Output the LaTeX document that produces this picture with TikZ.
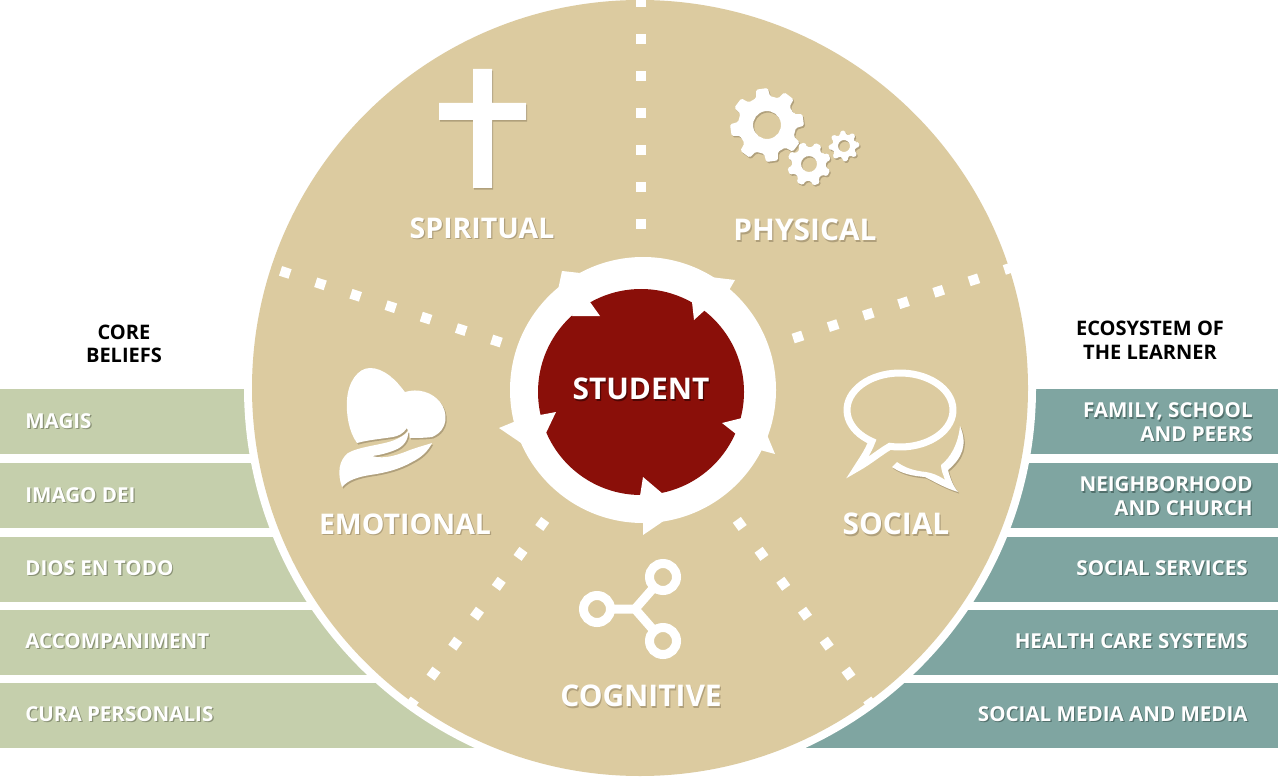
\documentclass[tikz,border=0pt]{standalone}
\usepackage{fontspec}
\setmainfont{Open Sans}
\usepackage{xcolor}
\definecolor{discTan}{RGB}{220,203,160}
\definecolor{tanShade}{RGB}{176,160,124}
\definecolor{beliefGreen}{RGB}{197,207,172}
\definecolor{greenShade}{RGB}{138,146,118}
\definecolor{systemTeal}{RGB}{127,165,161}
\definecolor{tealShade}{RGB}{82,112,108}
\definecolor{studentRed}{RGB}{138,15,9}
\definecolor{redShade}{RGB}{80,6,4}
\usetikzlibrary{calc}
\tikzset{
    icon/.style={fill=white,preaction={fill=tanShade,transform canvas={shift={(0.7pt,-0.9pt)}}}},
    cogicon/.style={even odd rule,rounded corners=0.03cm,fill=white,preaction={even odd rule,fill=tanShade,transform canvas={shift={(0.7pt,-0.9pt)}}}},
    iconline/.style={draw=white,preaction={draw=tanShade,transform canvas={shift={(0.7pt,-0.9pt)}}}},
    bigtext/.style={inner sep=0pt,font=\fontsize{17}{20}\selectfont\bfseries},
    bigtight/.style={inner sep=0pt,font=\fontsize{16.2}{20}\selectfont\bfseries},
    smalltext/.style={inner sep=0pt,font=\fontsize{11.7}{13.6}\selectfont\bfseries},
    headtext/.style={inner sep=0pt,font=\fontsize{11.4}{13.4}\selectfont\bfseries,align=center,text=black},
}
\newcommand{\pos}[2]{\coordinate (#1) at (#2)}
\newcommand{\lbl}[5]{\node[#1,text=#2] at ($(#4)+(1.2,1.6)$) {#5}; \node[#1,text=white] (#3) at (#4) {#5};}
\newcommand{\cog}[5]{\path[cogicon,shift={(#1)},rotate=#5] (-14:#3) \foreach \a in {0,45,...,315}{ -- (\a-14:#3) -- (\a-9:#2) -- (\a+9:#2) -- (\a+14:#3) } -- cycle (0,0) circle (#4);}

\begin{document}
\begin{tikzpicture}[x=0.02cm,y=-0.02cm]
    \useasboundingbox (0,0) rectangle (1280,780);
    \pos{c}{640,388};
    \pos{co}{643,390};
    \pos{cr}{641,392};
    % bars behind the disc
    \foreach \y in {389,463,537,610,683} {
        \fill[beliefGreen] (0,\y) rectangle (640,\y+65);
        \fill[systemTeal] (640,\y) rectangle (1278,\y+65);
    }
    \fill[white] (c) circle (396);
    \fill[discTan] (c) circle (388);
    % dotted dividers
    \foreach \a/\s in {90/164,18/165,162/152,-54/168,-126/168} {
        \foreach \k in {0,...,6} {
            \fill[white,shift={(641,388)},rotate=\a] (\s+37*\k-5,-5) rectangle (\s+37*\k+5,5);
        }
    }
    % centre
    \fill[white] (co) circle (133);
    \fill[studentRed] (cr) circle (103);
    \fill[white] (590,302)--(600,316)--(572,316)--(577,304)--cycle;
    \fill[white] (692,302)--(694,320)--(705,310)--(702,301)--cycle;
    \fill[white] (722,423)--(742,418)--(745,428)--(736,434)--cycle;
    \fill[white] (643,477)--(663,494)--(652,501)--(640,496)--cycle;
    \fill[white] (540,415)--(556,412)--(546,433)--(537,426)--cycle;
    \fill[white] (562,271)--(558,290)--(580,273)--cycle;
    \fill[white] (735,280)--(710,277)--(728,292)--cycle;
    \fill[white] (775,454)--(765,430)--(760,450)--cycle;
    \fill[white] (643,535)--(665,520)--(643,520)--cycle;
    \fill[white] (499,428)--(516,421)--(524,445)--cycle;
    % cross
    \path[icon] (473,69)--(492,69)--(492,103)--(526,103)--(526,120)--(492,120)--(492,188)--(473,188)--(473,120)--(439,120)--(439,103)--(473,103)--cycle;
    % gears
    \cog{767,125}{37}{29}{14}{8}
    \cog{809,164}{22}{17}{8}{20}
    \cog{844,146}{15.5}{11.5}{6}{5}
    % heart and hand
    \path[icon] (357,443) .. controls (349,432) and (346,415) .. (347,400) .. controls (348,382) and (358,368) .. (370,368) .. controls (384,368) and (396,380) .. (405,392) .. controls (418,388) and (432,392) .. (440,402) .. controls (448,412) and (449,430) .. (432,437) .. controls (424,438) and (416,438) .. (410,438) -- (407,428) .. controls (403,434) and (398,436) .. (393,437) .. controls (380,439) and (368,440) .. (357,443) -- cycle;
    \path[icon] (342,487) .. controls (337,473) and (339,460) .. (348,453) .. controls (358,447) and (380,445) .. (392,441) .. controls (400,438) and (405,435) .. (408,431) .. controls (409,440) and (403,447) .. (395,450) .. controls (388,453) and (380,455) .. (372,456) .. controls (385,460) and (400,454) .. (410,450) .. controls (418,447) and (426,445) .. (432,443) .. controls (428,451) and (422,457) .. (412,462) .. controls (400,469) and (385,473) .. (370,475) .. controls (358,477) and (348,480) .. (342,487) -- cycle;
    % speech bubbles
    \pos{bub}{900,410};
    \draw[iconline,line width=7*0.02cm] ($(bub)+(122:53 and 37)$) arc[start angle=122,end angle=461,x radius=53,y radius=37] .. controls (880,452) and (868,462) .. (857,468) .. controls (862,460) and (868,452) .. cycle;
    \path[icon] (960,426) .. controls (968,445) and (962,458) .. (948,470) .. controls (950,478) and (953,486) .. (958,492) .. controls (945,488) and (935,482) .. (925,477) .. controls (913,476) and (902,474) .. (892,467) -- (897,462) .. controls (905,468) and (915,471) .. (926,472) .. controls (932,473) and (938,475) .. (945,480) .. controls (943,474) and (941,470) .. (941,465) .. controls (950,458) and (958,445) .. (960,426) -- cycle;
    % network
    \pos{jn}{635,609};
    \pos{lf}{597,609};
    \pos{up}{663,577};
    \pos{dn}{663,641};
    \draw[iconline,line width=9*0.02cm] (jn)--($(lf)!0.36!(jn)$) (jn)--($(up)!0.32!(jn)$) (jn)--($(dn)!0.32!(jn)$) (lf) circle (13.5) (up) circle (13.5) (dn) circle (13.5);
    % labels
    \lbl{bigtight}{tanShade}{spiritual}{482,228}{SPIRITUAL}
    \lbl{bigtext}{tanShade}{physical}{805,230}{PHYSICAL}
    \lbl{bigtight}{tanShade}{emotional}{405,524}{EMOTIONAL}
    \lbl{bigtext}{tanShade}{social}{896,524}{SOCIAL}
    \lbl{bigtext}{tanShade}{cognitive}{641,696}{COGNITIVE}
    \lbl{bigtext}{redShade}{student}{641,389}{STUDENT}
    \lbl{smalltext,anchor=west}{greenShade}{magis}{25,421}{MAGIS}
    \lbl{smalltext,anchor=west}{greenShade}{imago}{25,495}{IMAGO DEI}
    \lbl{smalltext,anchor=west}{greenShade}{dios}{25,568}{DIOS EN TODO}
    \lbl{smalltext,anchor=west}{greenShade}{accomp}{25,641}{ACCOMPANIMENT}
    \lbl{smalltext,anchor=west}{greenShade}{cura}{25,714}{CURA PERSONALIS}
    \lbl{smalltext,anchor=east,align=right}{tealShade}{family}{1253,422}{FAMILY, SCHOOL\\AND PEERS}
    \lbl{smalltext,anchor=east,align=right}{tealShade}{neighbor}{1253,496}{NEIGHBORHOOD\\AND CHURCH}
    \lbl{smalltext,anchor=east}{tealShade}{services}{1248,568}{SOCIAL SERVICES}
    \lbl{smalltext,anchor=east}{tealShade}{health}{1248,641}{HEALTH CARE SYSTEMS}
    \lbl{smalltext,anchor=east}{tealShade}{media}{1248,714}{SOCIAL MEDIA AND MEDIA}
    \node[headtext] (core) at (124,344) {CORE\\BELIEFS};
    \node[headtext] (eco) at (1150,340) {ECOSYSTEM OF\\THE LEARNER};
\end{tikzpicture}
\end{document}
